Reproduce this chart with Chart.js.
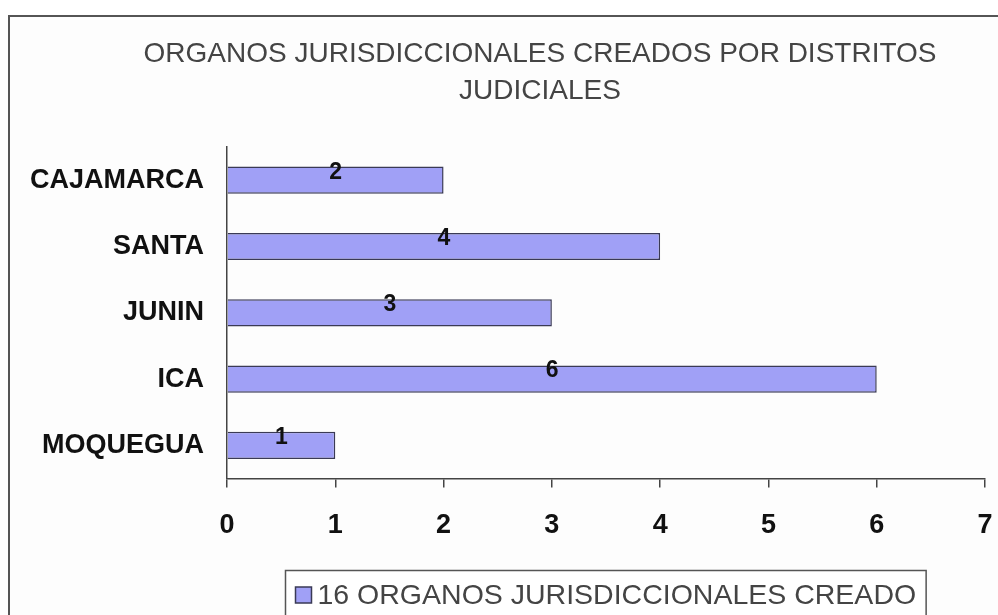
<!DOCTYPE html>
<html>
<head>
<meta charset="utf-8">
<script src="https://cdn.jsdelivr.net/npm/chart.js@4/dist/chart.umd.min.js"></script>
<style>
  html, body { margin: 0; padding: 0; background: #fff; }
  #wrap { width: 998px; height: 615px; position: relative; }
</style>
</head>
<body>
<div id="wrap"><canvas id="chart"></canvas></div>
<script>
// datos del grafico
const distritos = ['CAJAMARCA', 'SANTA', 'JUNIN', 'ICA', 'MOQUEGUA'];
const organos = [2, 4, 3, 6, 1];
const tituloLineas = ['ORGANOS JURISDICCIONALES CREADOS POR DISTRITOS', 'JUDICIALES'];
const serieNombre = '16 ORGANOS JURISDICCIONALES CREADO';

const fill = '#a0a0f6';
const edge = '#3a3a55';
const fam = '"Liberation Sans", Arial, sans-serif';

// marco exterior y titulo
const marco = {
  id: 'marco',
  beforeDraw(chart) {
    const c = chart.ctx;
    c.save();
    c.fillStyle = '#fdfdfd';
    c.fillRect(9, 16, chart.width - 9, chart.height - 16);
    c.strokeStyle = '#555';
    c.lineWidth = 2;
    c.beginPath();
    c.moveTo(9, chart.height);
    c.lineTo(9, 16);
    c.lineTo(chart.width, 16);
    c.stroke();

    c.fillStyle = '#444';
    c.font = '28px ' + fam;
    c.textAlign = 'center';
    c.textBaseline = 'middle';
    tituloLineas.forEach((t, i) => c.fillText(t, 540, 54 + i * 37));
    c.restore();
  }
};

// etiquetas de valor dentro de las barras
const etiquetas = {
  id: 'etiquetas',
  afterDatasetsDraw(chart) {
    const c = chart.ctx;
    const meta = chart.getDatasetMeta(0);
    c.save();
    c.font = 'bold 23px ' + fam;
    c.fillStyle = '#111';
    c.textAlign = 'center';
    c.textBaseline = 'middle';
    meta.data.forEach((bar, i) => {
      const x = (bar.base + bar.x) / 2;
      c.fillText(organos[i], x, bar.y - 8);
    });
    c.restore();
  }
};

// leyenda con recuadro
const leyenda = {
  id: 'leyenda',
  afterDraw(chart) {
    const c = chart.ctx;
    c.save();
    c.font = '28.5px ' + fam;
    const tw = c.measureText(serieNombre).width;
    const sw = 16, gap = 6, pad = 10;
    const w = pad + sw + gap + tw + pad;
    const left = 285.5;
    const top = 570.5;
    c.fillStyle = '#fff';
    c.fillRect(left, top, w, 46);
    c.strokeStyle = '#555';
    c.lineWidth = 1.5;
    c.strokeRect(left, top, w, 46);
    c.fillStyle = fill;
    c.fillRect(left + pad, 587, sw, sw);
    c.strokeStyle = edge;
    c.strokeRect(left + pad, 587, sw, sw);
    c.fillStyle = '#444';
    c.textBaseline = 'middle';
    c.fillText(serieNombre, left + pad + sw + gap, 596);
    c.restore();
  }
};

new Chart(document.getElementById('chart'), {
  type: 'bar',
  data: {
    labels: distritos,
    datasets: [{
      label: serieNombre,
      data: organos,
      backgroundColor: fill,
      borderColor: edge,
      borderWidth: 1.5,
      barPercentage: 0.41,
      categoryPercentage: 1
    }]
  },
  options: {
    indexAxis: 'y',
    responsive: true,
    maintainAspectRatio: false,
    animation: false,
    layout: { padding: { left: 0, right: 13, top: 147, bottom: 51 } },
    plugins: {
      legend: { display: false },
      tooltip: { enabled: false },
      title: { display: false }
    },
    scales: {
      x: {
        min: 0,
        max: 7,
        afterFit(scale) { scale.paddingRight = 0; scale.paddingLeft = 0; },
        ticks: {
          stepSize: 1,
          color: '#111',
          padding: 22,
          font: { family: fam, size: 27, weight: 'bold' }
        },
        grid: { drawOnChartArea: false, drawTicks: true, tickLength: 9, color: '#444', lineWidth: 1.5 },
        border: { display: true, color: '#444', width: 1.5 }
      },
      y: {
        afterFit(scale) { scale.width = 227; },
        ticks: {
          color: '#111',
          padding: 15,
          font: { family: fam, size: 27, weight: 'bold' }
        },
        grid: { display: false },
        border: { display: true, color: '#444', width: 1.5 }
      }
    }
  },
  plugins: [marco, etiquetas, leyenda]
});
</script>
</body>
</html>
